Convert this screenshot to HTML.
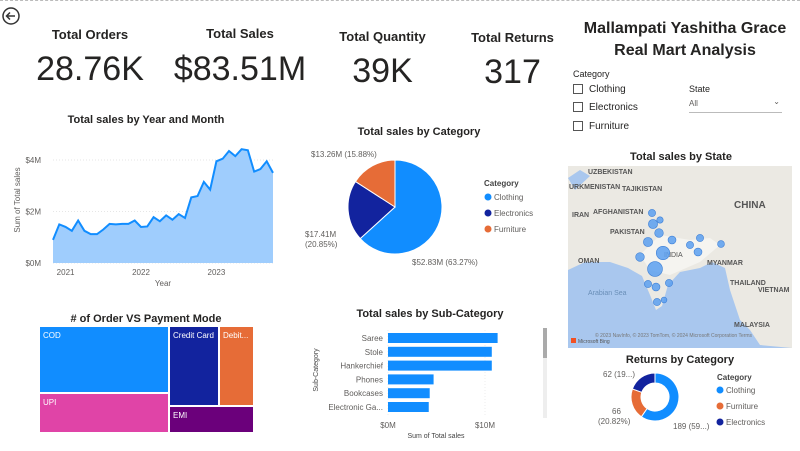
<!DOCTYPE html>
<html><head><meta charset="utf-8"><style>
body{margin:0;width:800px;height:451px;background:#fff;font-family:"Liberation Sans",sans-serif;position:relative;overflow:hidden}
.a{position:absolute}
.kt{position:absolute;font-weight:bold;font-size:13px;color:#252423;text-align:center}
.kv{position:absolute;font-size:34px;color:#252423;text-align:center}
.tt{font-weight:bold;font-size:11px;fill:#252423}
.lb{font-size:8px;fill:#605e5c}
</style></head><body>
<div class="a" style="left:0;top:0;width:800px;border-top:1px dashed #bbb"></div>
<svg class="a" style="left:1px;top:6px" width="20" height="20"><circle cx="10" cy="10" r="8" fill="none" stroke="#333" stroke-width="1.5"/><path d="M14 10H6M9 6.5L5.5 10L9 13.5" fill="none" stroke="#333" stroke-width="1.5"/></svg>
<div class="kt" style="left:40px;top:27px;width:100px">Total Orders</div>
<div class="kv" style="left:30px;top:50px;width:120px">28.76K</div>
<div class="kt" style="left:190px;top:26px;width:100px">Total Sales</div>
<div class="kv" style="left:165px;top:50px;width:150px">$83.51M</div>
<div class="kt" style="left:330px;top:29px;width:105px">Total Quantity</div>
<div class="kv" style="left:330px;top:52px;width:105px">39K</div>
<div class="kt" style="left:465px;top:30px;width:95px">Total Returns</div>
<div class="kv" style="left:465px;top:53px;width:95px">317</div>
<div class="a" style="left:570px;top:18px;width:230px;text-align:center;font-weight:bold;font-size:16px;color:#252423;line-height:22px">Mallampati Yashitha Grace<br>Real Mart Analysis</div>
<div class="a" style="left:573px;top:69px;font-size:9px;color:#252423">Category</div>
<div class="a" style="left:573px;top:84px;font-size:10px;color:#252423"><span style="display:inline-block;width:8px;height:8px;border:1px solid #555;vertical-align:middle;margin-right:6px"></span>Clothing</div>
<div class="a" style="left:573px;top:102px;font-size:10px;color:#252423"><span style="display:inline-block;width:8px;height:8px;border:1px solid #555;vertical-align:middle;margin-right:6px"></span>Electronics</div>
<div class="a" style="left:573px;top:121px;font-size:10px;color:#252423"><span style="display:inline-block;width:8px;height:8px;border:1px solid #555;vertical-align:middle;margin-right:6px"></span>Furniture</div>
<div class="a" style="left:689px;top:84px;font-size:9px;color:#252423">State</div>
<div class="a" style="left:689px;top:99px;width:93px;height:13px;border-bottom:1px solid #bbb;font-size:8px;color:#605e5c">All<span style="position:absolute;right:2px;top:-2px">⌄</span></div>

<svg class="a" style="left:0;top:0" width="800" height="451">
<text class="tt" x="146" y="123" text-anchor="middle">Total sales by Year and Month</text>
<g id="line"></g>
<text class="tt" x="419" y="135" text-anchor="middle">Total sales by Category</text>
<g id="pie"></g>
<text class="tt" x="146" y="322" text-anchor="middle"># of Order VS Payment Mode</text>
<g id="tree"></g>
<text class="tt" x="430" y="317" text-anchor="middle">Total sales by Sub-Category</text>
<g id="bar"></g>
<rect x="543" y="328" width="4" height="90" fill="#eee"/><rect x="543" y="328" width="4" height="30" fill="#aaa"/>
<text class="tt" x="681" y="160" text-anchor="middle">Total sales by State</text>
<g>
<rect x="568" y="166" width="224" height="182" fill="#ebe9e3"/>
<path d="M568 270 L585 262 L610 262 L628 268 L642 276 L650 295 L656 310 L662 306 L668 285 L680 272 L700 268 L712 262 L725 268 L730 290 L740 320 L750 330 L760 345 L792 348 L568 348Z" fill="#a9c7ee"/>
<path d="M568 178 L580 170 L590 176 L575 190Z" fill="#a9c7ee"/>
<path d="M660 235 L690 240 L710 238 L720 245 L700 262 L670 275 L650 270 L640 255Z" fill="#f5f4f0"/>
<g font-size="7" font-weight="bold" fill="#555">
<text x="588" y="174">UZBEKISTAN</text><text x="569" y="189">URKMENISTAN</text><text x="622" y="191">TAJIKISTAN</text>
<text x="572" y="217">IRAN</text><text x="593" y="214">AFGHANISTAN</text><text x="610" y="234">PAKISTAN</text>
<text x="734" y="208" font-size="10">CHINA</text><text x="578" y="263">OMAN</text><text x="707" y="265">MYANMAR</text>
<text x="730" y="285">THAILAND</text><text x="758" y="292">VIETNAM</text><text x="734" y="327">MALAYSIA</text>
<text x="664" y="257" font-weight="normal">INDIA</text></g>
<text x="588" y="295" font-size="7" fill="#6a8fb8">Arabian Sea</text>
<g id="bub"></g>
<text x="595" y="337" font-size="5" fill="#777">© 2023 NavInfo, © 2023 TomTom, © 2024 Microsoft Corporation  Terms</text>
<rect x="571" y="338" width="5" height="5" fill="#f25022"/><text x="578" y="343" font-size="5" fill="#555">Microsoft Bing</text>
</g>
<text class="tt" x="680" y="363" text-anchor="middle">Returns by Category</text>
<g id="donut"></g>
</svg>
<script>
const NS="http://www.w3.org/2000/svg";
function mk(p,t,a,txt){const e=document.createElementNS(NS,t);for(const k in a)e.setAttribute(k,a[k]);if(txt!==undefined)e.textContent=txt;p.appendChild(e);return e;}
// line chart data
const monthlySales=[0.9,1.5,1.4,1.25,1.65,1.25,1.12,1.12,1.3,1.52,1.5,1.52,1.52,1.65,1.4,1.42,1.78,1.62,1.85,1.68,1.9,1.75,2.55,2.6,3.15,2.85,3.95,4.05,4.35,4.15,4.42,4.38,3.55,3.65,3.95,3.5];
const yTicks=[0,2,4];
const yTickLabels=["$0M","$2M","$4M"];
const yearLabels=["2021","2022","2023"];
const yearIndex=[2,14,26];
const L=document.getElementById('line');
const lx=i=>53+i*(220/(monthlySales.length-1)), ly=v=>263-v*25.75;
yTicks.forEach((t,i)=>{const g=mk(L,'line',{x1:53,x2:273,y1:ly(t),y2:ly(t),stroke:'#e6e6e6','stroke-dasharray':'1,2'});
const tx=mk(L,'text',{x:41,y:ly(t)+3,class:'lb','text-anchor':'end'},yTickLabels[i]);});
yearLabels.forEach((y,i)=>{const tx=mk(L,'text',{x:lx(yearIndex[i]),y:275,class:'lb','text-anchor':'middle'},y);});
let pts=monthlySales.map((v,i)=>lx(i)+','+ly(v)).join(' ');
const ar=mk(L,'polygon',{points:lx(0)+',263 '+pts+' '+lx(monthlySales.length-1)+',263',fill:'#9fcdfd'});
const pl=mk(L,'polyline',{points:pts,fill:'none',stroke:'#118dff','stroke-width':2});
const xt=mk(L,'text',{x:163,y:286,class:'lb','font-size':9,'text-anchor':'middle',fill:'#444'},'Year');
const yt=mk(L,'text',{x:20,y:200,class:'lb','text-anchor':'middle',transform:'rotate(-90 20 200)'},'Sum of Total sales');

// pie
const pieCats=["Clothing","Electronics","Furniture"];
const pieVals=[52.83,17.41,13.26];
const pieLabels=["$52.83M (63.27%)","$17.41M (20.85%)","$13.26M (15.88%)"];
const catColors=["#118dff","#12239e","#e66c37"];
function arcs(G,cx,cy,r,ri,vals,cols,nm){const tot=vals.reduce((a,b)=>a+b,0);let a0=0;vals.forEach((v,i)=>{const a1=a0+v/tot*2*Math.PI;
const P=(a,rr)=>[cx+rr*Math.sin(a),cy-rr*Math.cos(a)];const lg=a1-a0>Math.PI?1:0;const[p0,p1]=[P(a0,r),P(a1,r)];
let d=`M${p0} A${r},${r} 0 ${lg} 1 ${p1}`;if(ri){const[q1,q0]=[P(a1,ri),P(a0,ri)];d+=` L${q1} A${ri},${ri} 0 ${lg} 0 ${q0}Z`;}else d+=` L${cx},${cy}Z`;
const s=mk(G,'path',{d:d,fill:cols[i],stroke:'#fff','stroke-width':1});a0=a1;});}
const PG=document.getElementById('pie');arcs(PG,395,207,47,0,pieVals,catColors,'pie');
[[311,156,'start'],[305,236,'start'],[412,264,'start']].forEach((p,i)=>{});
const pl1=mk(PG,'text',{x:311,y:157,class:'lb'},pieLabels[2]);
const pl2=mk(PG,'text',{x:305,y:237,class:'lb'},pieLabels[1].split(' ')[0]);
const pl3=mk(PG,'text',{x:305,y:247,class:'lb'},pieLabels[1].split(' ')[1]);
const pl4=mk(PG,'text',{x:412,y:265,class:'lb'},pieLabels[0]);
const lt=mk(PG,'text',{x:484,y:186,'font-size':8,'font-weight':'bold',fill:'#444'},'Category');
pieCats.forEach((c,i)=>{const d=mk(PG,'circle',{cx:488,cy:197+i*16,r:3.5,fill:catColors[i]});
const t=mk(PG,'text',{x:494,y:200+i*16,class:'lb'},c);});

// treemap (layout fixed to reference)
const payModes=["COD","Credit Card","Debit...","UPI","EMI"];
const payColors=["#118dff","#12239e","#e66c37","#e044a7","#6b007b"];
const rects=[[40,327,128,65],[170,327,48,78],[220,327,33,78],[40,394,128,38],[170,407,83,25]];
const T=document.getElementById('tree');
payModes.forEach((m,i)=>{const r=rects[i];const e=mk(T,'rect',{x:r[0],y:r[1],width:r[2],height:r[3],fill:payColors[i]});
const t=mk(T,'text',{x:r[0]+3,y:r[1]+11,'font-size':8,fill:'#fff'},m);});

// bars
const subCats=["Saree","Stole","Hankerchief","Phones","Bookcases","Electronic Ga..."];
const subVals=[11.3,10.7,10.7,4.7,4.3,4.2];
const xTicks=[0,10];const xTickLabels=["$0M","$10M"];
const B=document.getElementById('bar');const bx=v=>388+v*9.7;
xTicks.forEach((t,i)=>{const g=mk(B,'line',{x1:bx(t),x2:bx(t),y1:330,y2:415,stroke:'#eee','stroke-dasharray':'1,2'});
const tx=mk(B,'text',{x:bx(t),y:428,class:'lb','text-anchor':'middle'},xTickLabels[i]);});
subCats.forEach((c,i)=>{const y=333+i*13.8;const r=mk(B,'rect',{x:bx(0),y:y,width:bx(subVals[i])-bx(0),height:10,fill:'#118dff'});
const t=mk(B,'text',{x:383,y:y+8,class:'lb','text-anchor':'end'},c);});
const bxt=mk(B,'text',{x:436,y:438,'font-size':7,fill:'#444','text-anchor':'middle'},'Sum of Total sales');
const byt=mk(B,'text',{x:318,y:370,'font-size':7,fill:'#444','text-anchor':'middle',transform:'rotate(-90 318 370)'},'Sub-Category');

// map bubbles
const bubX=[652,660,653,659,648,672,663,640,655,690,700,698,721,648,656,669,657,664];
const bubY=[213,220,224,233,242,240,253,257,269,245,238,252,244,284,287,283,302,300];
const bubSales=[2,1.5,3.5,3,3.5,2.5,8,3,10,2,2,2.5,1.8,2,2.5,2,2,1.2];
const BG=document.getElementById('bub');
bubSales.forEach((v,i)=>{const c=mk(BG,'circle',{cx:bubX[i],cy:bubY[i],r:2.2*Math.sqrt(v)+0.5,fill:'#5b9ff0','fill-opacity':0.85,stroke:'#3d7fd6','stroke-width':0.6});});

// donut
const retCats=["Clothing","Furniture","Electronics"];
const retVals=[189,66,62];
const retColors=["#118dff","#e66c37","#12239e"];
const D=document.getElementById('donut');arcs(D,655,397,24,14,retVals,retColors,'donut');
[["62 (19...)",603,377],["66",612,414],["(20.82%)",598,424],["189 (59...)",673,429]].forEach(l=>{const t=mk(D,'text',{x:l[1],y:l[2],class:'lb','font-size':7.5},l[0]);});
const dl=mk(D,'text',{x:717,y:380,'font-size':8,'font-weight':'bold',fill:'#444'},'Category');
retCats.forEach((c,i)=>{const d=mk(D,'circle',{cx:720,cy:390+i*16,r:3.5,fill:retColors[i]});
const t=mk(D,'text',{x:726,y:393+i*16,class:'lb'},c);});
</script>
</body></html>
